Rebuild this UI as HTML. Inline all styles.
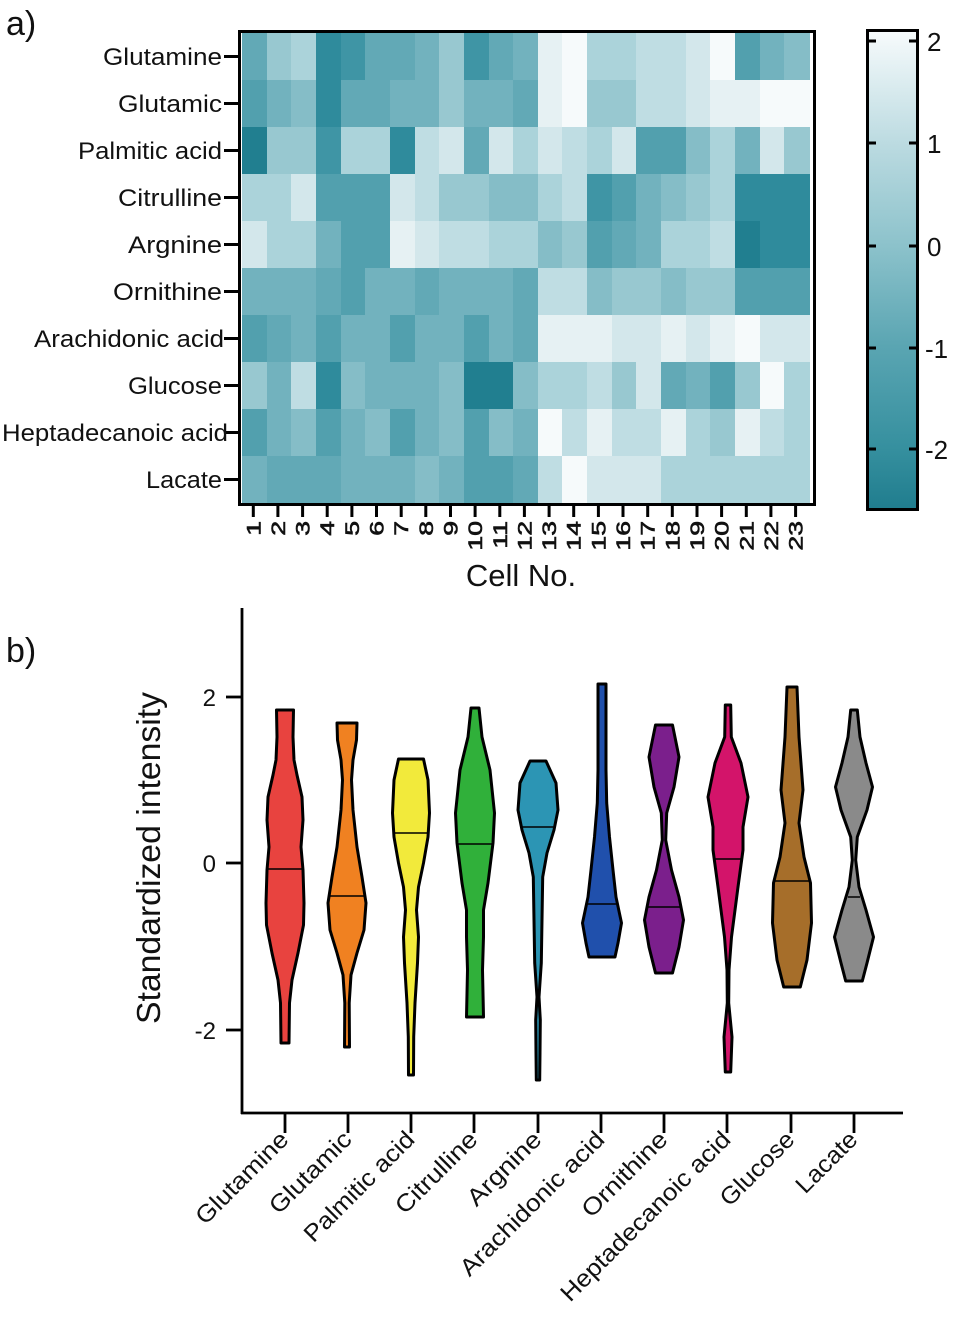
<!DOCTYPE html>
<html><head><meta charset="utf-8">
<style>
html,body{margin:0;padding:0;background:#fff;}
body{width:955px;height:1319px;position:relative;overflow:hidden;font-family:"Liberation Sans",Arial,sans-serif;}
#hm{position:absolute;left:242px;top:33px;width:567px;height:470px;display:grid;grid-template-columns:repeat(23,1fr);grid-template-rows:repeat(10,1fr);}
#hm i{display:block;margin-right:-0.5px;}
.l0{background:#217f90}.l1{background:#2f8b9c}.l2{background:#3f95a5}.l3{background:#52a0ae}.l4{background:#62a9b6}.l5{background:#72b2be}.l6{background:#85bdc7}.l7{background:#98c8d0}.l8{background:#abd3da}.l9{background:#bfdde3}.l10{background:#d3e7eb}.l11{background:#e6f1f3}.l12{background:#f6fafb}
svg{position:absolute;left:0;top:0;}
text{font-family:"Liberation Sans",Arial,sans-serif;fill:#111;}
</style></head><body>
<div id="hm">
<i class="l4"></i><i class="l7"></i><i class="l8"></i><i class="l1"></i><i class="l2"></i><i class="l4"></i><i class="l4"></i><i class="l5"></i><i class="l7"></i><i class="l2"></i><i class="l4"></i><i class="l5"></i><i class="l11"></i><i class="l12"></i><i class="l8"></i><i class="l8"></i><i class="l9"></i><i class="l9"></i><i class="l10"></i><i class="l12"></i><i class="l3"></i><i class="l5"></i><i class="l6"></i>
<i class="l3"></i><i class="l5"></i><i class="l6"></i><i class="l1"></i><i class="l4"></i><i class="l4"></i><i class="l5"></i><i class="l5"></i><i class="l7"></i><i class="l5"></i><i class="l5"></i><i class="l4"></i><i class="l11"></i><i class="l12"></i><i class="l7"></i><i class="l7"></i><i class="l9"></i><i class="l9"></i><i class="l10"></i><i class="l11"></i><i class="l11"></i><i class="l12"></i><i class="l12"></i>
<i class="l0"></i><i class="l7"></i><i class="l7"></i><i class="l2"></i><i class="l8"></i><i class="l8"></i><i class="l1"></i><i class="l9"></i><i class="l10"></i><i class="l4"></i><i class="l10"></i><i class="l8"></i><i class="l10"></i><i class="l9"></i><i class="l8"></i><i class="l10"></i><i class="l3"></i><i class="l3"></i><i class="l6"></i><i class="l8"></i><i class="l5"></i><i class="l10"></i><i class="l7"></i>
<i class="l8"></i><i class="l8"></i><i class="l10"></i><i class="l3"></i><i class="l3"></i><i class="l3"></i><i class="l10"></i><i class="l9"></i><i class="l7"></i><i class="l7"></i><i class="l6"></i><i class="l6"></i><i class="l8"></i><i class="l9"></i><i class="l2"></i><i class="l3"></i><i class="l5"></i><i class="l6"></i><i class="l7"></i><i class="l8"></i><i class="l1"></i><i class="l1"></i><i class="l1"></i>
<i class="l10"></i><i class="l8"></i><i class="l8"></i><i class="l5"></i><i class="l3"></i><i class="l3"></i><i class="l11"></i><i class="l10"></i><i class="l9"></i><i class="l9"></i><i class="l8"></i><i class="l8"></i><i class="l6"></i><i class="l7"></i><i class="l3"></i><i class="l4"></i><i class="l5"></i><i class="l8"></i><i class="l8"></i><i class="l9"></i><i class="l0"></i><i class="l1"></i><i class="l1"></i>
<i class="l5"></i><i class="l5"></i><i class="l5"></i><i class="l4"></i><i class="l3"></i><i class="l5"></i><i class="l5"></i><i class="l4"></i><i class="l5"></i><i class="l5"></i><i class="l5"></i><i class="l4"></i><i class="l9"></i><i class="l9"></i><i class="l6"></i><i class="l7"></i><i class="l7"></i><i class="l6"></i><i class="l7"></i><i class="l7"></i><i class="l3"></i><i class="l3"></i><i class="l3"></i>
<i class="l3"></i><i class="l4"></i><i class="l5"></i><i class="l3"></i><i class="l5"></i><i class="l5"></i><i class="l3"></i><i class="l5"></i><i class="l5"></i><i class="l3"></i><i class="l5"></i><i class="l4"></i><i class="l11"></i><i class="l11"></i><i class="l11"></i><i class="l10"></i><i class="l10"></i><i class="l11"></i><i class="l10"></i><i class="l11"></i><i class="l12"></i><i class="l10"></i><i class="l10"></i>
<i class="l7"></i><i class="l5"></i><i class="l9"></i><i class="l1"></i><i class="l6"></i><i class="l5"></i><i class="l5"></i><i class="l5"></i><i class="l6"></i><i class="l0"></i><i class="l0"></i><i class="l6"></i><i class="l8"></i><i class="l8"></i><i class="l9"></i><i class="l7"></i><i class="l10"></i><i class="l4"></i><i class="l5"></i><i class="l3"></i><i class="l7"></i><i class="l12"></i><i class="l8"></i>
<i class="l3"></i><i class="l5"></i><i class="l6"></i><i class="l3"></i><i class="l5"></i><i class="l6"></i><i class="l3"></i><i class="l5"></i><i class="l6"></i><i class="l3"></i><i class="l6"></i><i class="l5"></i><i class="l12"></i><i class="l9"></i><i class="l11"></i><i class="l9"></i><i class="l9"></i><i class="l11"></i><i class="l8"></i><i class="l7"></i><i class="l11"></i><i class="l9"></i><i class="l8"></i>
<i class="l5"></i><i class="l4"></i><i class="l4"></i><i class="l4"></i><i class="l5"></i><i class="l5"></i><i class="l5"></i><i class="l6"></i><i class="l5"></i><i class="l3"></i><i class="l3"></i><i class="l4"></i><i class="l9"></i><i class="l12"></i><i class="l10"></i><i class="l10"></i><i class="l10"></i><i class="l8"></i><i class="l8"></i><i class="l8"></i><i class="l8"></i><i class="l8"></i><i class="l8"></i>
</div>
<svg width="955" height="1319" viewBox="0 0 955 1319" xmlns="http://www.w3.org/2000/svg">
<defs>
<linearGradient id="cb" x1="0" y1="0" x2="0" y2="1">
<stop offset="0" stop-color="#f7fbfc"/>
<stop offset="0.235" stop-color="#bcdbe1"/>
<stop offset="0.45" stop-color="#8cc2cb"/>
<stop offset="0.66" stop-color="#5aa5b2"/>
<stop offset="0.87" stop-color="#36909f"/>
<stop offset="1" stop-color="#207d8e"/>
</linearGradient>
</defs>
<text x="6" y="35" font-size="34">a)</text>
<text x="6" y="662" font-size="34">b)</text>

<rect x="239.5" y="31.5" width="575" height="473" fill="none" stroke="#000" stroke-width="3"/>
<g stroke="#000" stroke-width="3">
<line x1="224" y1="56.5" x2="239" y2="56.5"/><line x1="224" y1="103.5" x2="239" y2="103.5"/><line x1="224" y1="150.5" x2="239" y2="150.5"/><line x1="224" y1="197.5" x2="239" y2="197.5"/><line x1="224" y1="244.5" x2="239" y2="244.5"/><line x1="224" y1="291.5" x2="239" y2="291.5"/><line x1="224" y1="338.5" x2="239" y2="338.5"/><line x1="224" y1="385.5" x2="239" y2="385.5"/><line x1="224" y1="432.5" x2="239" y2="432.5"/><line x1="224" y1="479.5" x2="239" y2="479.5"/>
</g>
<g font-size="24" text-anchor="end">
<text x="222" y="65" textLength="119" lengthAdjust="spacingAndGlyphs">Glutamine</text>
<text x="222" y="112" textLength="104" lengthAdjust="spacingAndGlyphs">Glutamic</text>
<text x="222" y="159" textLength="144" lengthAdjust="spacingAndGlyphs">Palmitic acid</text>
<text x="222" y="206" textLength="104" lengthAdjust="spacingAndGlyphs">Citrulline</text>
<text x="222" y="253" textLength="94" lengthAdjust="spacingAndGlyphs">Argnine</text>
<text x="222" y="300" textLength="109" lengthAdjust="spacingAndGlyphs">Ornithine</text>
<text x="224" y="347" textLength="190" lengthAdjust="spacingAndGlyphs">Arachidonic acid</text>
<text x="222" y="394" textLength="94" lengthAdjust="spacingAndGlyphs">Glucose</text>
<text x="228" y="441" textLength="226" lengthAdjust="spacingAndGlyphs">Heptadecanoic acid</text>
<text x="222" y="488" textLength="76" lengthAdjust="spacingAndGlyphs">Lacate</text>
</g>
<g stroke="#000" stroke-width="3">
<line x1="253.3" y1="506" x2="253.3" y2="517"/><line x1="277.9" y1="506" x2="277.9" y2="517"/><line x1="302.6" y1="506" x2="302.6" y2="517"/><line x1="327.2" y1="506" x2="327.2" y2="517"/><line x1="351.9" y1="506" x2="351.9" y2="517"/><line x1="376.5" y1="506" x2="376.5" y2="517"/><line x1="401.2" y1="506" x2="401.2" y2="517"/><line x1="425.8" y1="506" x2="425.8" y2="517"/><line x1="450.5" y1="506" x2="450.5" y2="517"/><line x1="475.1" y1="506" x2="475.1" y2="517"/><line x1="499.8" y1="506" x2="499.8" y2="517"/><line x1="524.4" y1="506" x2="524.4" y2="517"/><line x1="549.1" y1="506" x2="549.1" y2="517"/><line x1="573.7" y1="506" x2="573.7" y2="517"/><line x1="598.4" y1="506" x2="598.4" y2="517"/><line x1="623" y1="506" x2="623" y2="517"/><line x1="647.7" y1="506" x2="647.7" y2="517"/><line x1="672.3" y1="506" x2="672.3" y2="517"/><line x1="697" y1="506" x2="697" y2="517"/><line x1="721.6" y1="506" x2="721.6" y2="517"/><line x1="746.3" y1="506" x2="746.3" y2="517"/><line x1="770.9" y1="506" x2="770.9" y2="517"/><line x1="795.6" y1="506" x2="795.6" y2="517"/>
</g>
<g font-size="19" text-anchor="end" stroke="#111" stroke-width="0.6">
<text transform="translate(260.3,521) rotate(-90) scale(1.4,1)">1</text>
<text transform="translate(284.9,521) rotate(-90) scale(1.4,1)">2</text>
<text transform="translate(309.6,521) rotate(-90) scale(1.4,1)">3</text>
<text transform="translate(334.2,521) rotate(-90) scale(1.4,1)">4</text>
<text transform="translate(358.9,521) rotate(-90) scale(1.4,1)">5</text>
<text transform="translate(383.5,521) rotate(-90) scale(1.4,1)">6</text>
<text transform="translate(408.2,521) rotate(-90) scale(1.4,1)">7</text>
<text transform="translate(432.8,521) rotate(-90) scale(1.4,1)">8</text>
<text transform="translate(457.5,521) rotate(-90) scale(1.4,1)">9</text>
<text transform="translate(482.1,521) rotate(-90) scale(1.4,1)">10</text>
<text transform="translate(506.8,521) rotate(-90) scale(1.4,1)">11</text>
<text transform="translate(531.4,521) rotate(-90) scale(1.4,1)">12</text>
<text transform="translate(556.1,521) rotate(-90) scale(1.4,1)">13</text>
<text transform="translate(580.7,521) rotate(-90) scale(1.4,1)">14</text>
<text transform="translate(605.4,521) rotate(-90) scale(1.4,1)">15</text>
<text transform="translate(630,521) rotate(-90) scale(1.4,1)">16</text>
<text transform="translate(654.7,521) rotate(-90) scale(1.4,1)">17</text>
<text transform="translate(679.3,521) rotate(-90) scale(1.4,1)">18</text>
<text transform="translate(704,521) rotate(-90) scale(1.4,1)">19</text>
<text transform="translate(728.6,521) rotate(-90) scale(1.4,1)">20</text>
<text transform="translate(753.3,521) rotate(-90) scale(1.4,1)">21</text>
<text transform="translate(777.9,521) rotate(-90) scale(1.4,1)">22</text>
<text transform="translate(802.6,521) rotate(-90) scale(1.4,1)">23</text>
</g>
<text x="521" y="586" font-size="31" text-anchor="middle">Cell No.</text>

<rect x="867.5" y="30.5" width="50" height="479" fill="url(#cb)" stroke="#000" stroke-width="3"/>
<g stroke="#000" stroke-width="3">
<line x1="868" y1="41" x2="876" y2="41"/><line x1="909" y1="41" x2="917" y2="41"/>
<line x1="868" y1="143" x2="876" y2="143"/><line x1="909" y1="143" x2="917" y2="143"/>
<line x1="868" y1="246" x2="876" y2="246"/><line x1="909" y1="246" x2="917" y2="246"/>
<line x1="868" y1="348" x2="876" y2="348"/><line x1="909" y1="348" x2="917" y2="348"/>
<line x1="868" y1="449" x2="876" y2="449"/><line x1="909" y1="449" x2="917" y2="449"/>
</g>
<g font-size="26">
<text x="927" y="51">2</text>
<text x="927" y="153">1</text>
<text x="927" y="256">0</text>
<text x="925" y="358">-1</text>
<text x="925" y="459">-2</text>
</g>

<g stroke="#000" stroke-width="2.8" fill="none">
<line x1="242" y1="608" x2="242" y2="1114"/>
<line x1="241" y1="1113" x2="903" y2="1113"/>
<line x1="226" y1="697" x2="242" y2="697"/><line x1="226" y1="863" x2="242" y2="863"/><line x1="226" y1="1030" x2="242" y2="1030"/>
<line x1="285" y1="1113" x2="285" y2="1133"/><line x1="348" y1="1113" x2="348" y2="1133"/><line x1="411" y1="1113" x2="411" y2="1133"/><line x1="474" y1="1113" x2="474" y2="1133"/><line x1="538" y1="1113" x2="538" y2="1133"/><line x1="601" y1="1113" x2="601" y2="1133"/><line x1="664" y1="1113" x2="664" y2="1133"/><line x1="727" y1="1113" x2="727" y2="1133"/><line x1="791" y1="1113" x2="791" y2="1133"/><line x1="854" y1="1113" x2="854" y2="1133"/>
</g>
<g font-size="24" text-anchor="end">
<text x="216" y="706">2</text>
<text x="216" y="872">0</text>
<text x="216" y="1039">-2</text>
</g>
<text transform="translate(160,858) rotate(-90)" font-size="33" text-anchor="middle" textLength="332" lengthAdjust="spacingAndGlyphs">Standardized intensity</text>

<g stroke="#000" stroke-width="3" stroke-linejoin="round">
<path fill="#e8433f" d="M293.5,710 L293,737 L294,760 L297,775 L302,797 L303,820 L301,847 L303,870 L304,903 L303.5,925 L298,953 L292,980 L289.5,1003 L289,1043 L281,1043 L280.5,1003 L278,980 L272,953 L266.5,925 L266,903 L267,870 L269,847 L267,820 L268,797 L273,775 L276,760 L277,737 L276.5,710 Z"/>
<path fill="#f08121" d="M357,723 L356.5,740 L353,760 L351.5,780 L353,810 L357,847 L362,877 L366,903 L364,930 L357,953 L351,975 L349.2,1003 L349.5,1047 L344.5,1047 L344.8,1003 L343,975 L337,953 L330,930 L328,903 L332,877 L337,847 L341,810 L342.5,780 L341,760 L337.5,740 L337,723 Z"/>
<path fill="#f2ea3b" d="M423.5,759 L428,780 L429.5,813 L428,837 L423.5,863 L418.5,887 L416.5,910 L418.5,937 L417.5,963 L415,1003 L413.7,1037 L413.5,1075 L408.5,1075 L408.3,1037 L407,1003 L404.5,963 L403.5,937 L405.5,910 L403.5,887 L398.5,863 L394,837 L392.5,813 L394,780 L398.5,759 Z"/>
<path fill="#30b03a" d="M479,708 L482,737 L490,770 L494.5,813 L493,843 L488,883 L483.5,910 L483.5,937 L482.5,970 L483.5,1017 L466.5,1017 L467.5,970 L466.5,937 L466.5,910 L462,883 L457,843 L455.5,813 L460,770 L468,737 L471,708 Z"/>
<path fill="#2c95b4" d="M546,761 L556,783 L558,810 L554,830 L547,853 L542.7,877 L542,920 L541.3,963 L539,997 L540.3,1020 L540,1053 L539.7,1080 L536.3,1080 L536,1053 L535.7,1020 L537,997 L534.7,963 L534,920 L533.3,877 L529,853 L522,830 L518,810 L520,783 L530,761 Z"/>
<path fill="#2050ac" d="M606,684 L606,720 L606,770 L606.7,803 L609.5,837 L613,870 L616,897 L621.5,923 L618,943 L615,957 L589,957 L586,943 L582.5,923 L588,897 L591,870 L594.5,837 L597.3,803 L598,770 L598,720 L598,684 Z"/>
<path fill="#7b1f8c" d="M672.5,725 L679,757 L674,787 L666.7,813 L665.7,840 L671.5,870 L679,897 L683.5,920 L679,947 L672.5,973 L655.5,973 L649,947 L644.5,920 L649,897 L656.5,870 L662.3,840 L661.3,813 L654,787 L649,757 L655.5,725 Z"/>
<path fill="#d3146a" d="M730.7,705 L731.3,737 L741,763 L748,797 L743,827 L743,850 L738,887 L731.5,937 L729,970 L728.7,1003 L732,1037 L730.7,1072 L725.3,1072 L724,1037 L727.3,1003 L727,970 L724.5,937 L718,887 L713,850 L713,827 L708,797 L715,763 L724.7,737 L725.3,705 Z"/>
<path fill="#a66e2a" d="M797,687 L799,737 L803,790 L799,823 L804,857 L810.5,883 L811.5,923 L807,960 L800.3,987 L783.7,987 L777,960 L772.5,923 L773.5,883 L780,857 L785,823 L781,790 L785,737 L787,687 Z"/>
<path fill="#8a8a8a" d="M857.3,710 L860,737 L866,763 L872.5,787 L867,810 L857.3,837 L855.7,860 L859,887 L866,910 L873.5,937 L867,963 L862.3,981 L845.7,981 L841,963 L834.5,937 L842,910 L849,887 L852.3,860 L850.7,837 L841,810 L835.5,787 L842,763 L848,737 L850.7,710 Z"/>
</g>
<g stroke="#000" stroke-width="1.5">
<line x1="267" y1="869" x2="303" y2="869"/>
<line x1="329" y1="896" x2="365" y2="896"/>
<line x1="394" y1="833" x2="428" y2="833"/>
<line x1="457" y1="844" x2="493" y2="844"/>
<line x1="521" y1="827" x2="555" y2="827"/>
<line x1="587" y1="904" x2="617" y2="904"/>
<line x1="647" y1="907" x2="681" y2="907"/>
<line x1="714" y1="859" x2="742" y2="859"/>
<line x1="774" y1="881" x2="810" y2="881"/>
<line x1="848" y1="897" x2="860" y2="897"/>
</g>
<g font-size="24" text-anchor="end">
<text transform="translate(290,1141) rotate(-45)" textLength="120" lengthAdjust="spacingAndGlyphs">Glutamine</text>
<text transform="translate(353,1141) rotate(-45)" textLength="105" lengthAdjust="spacingAndGlyphs">Glutamic</text>
<text transform="translate(416,1141) rotate(-45)" textLength="145" lengthAdjust="spacingAndGlyphs">Palmitic acid</text>
<text transform="translate(479,1141) rotate(-45)" textLength="105" lengthAdjust="spacingAndGlyphs">Citrulline</text>
<text transform="translate(543,1141) rotate(-45)" textLength="94" lengthAdjust="spacingAndGlyphs">Argnine</text>
<text transform="translate(606,1141) rotate(-45)" textLength="193" lengthAdjust="spacingAndGlyphs">Arachidonic acid</text>
<text transform="translate(669,1141) rotate(-45)" textLength="110" lengthAdjust="spacingAndGlyphs">Ornithine</text>
<text transform="translate(732,1141) rotate(-45)" textLength="229" lengthAdjust="spacingAndGlyphs">Heptadecanoic acid</text>
<text transform="translate(796,1141) rotate(-45)" textLength="94" lengthAdjust="spacingAndGlyphs">Glucose</text>
<text transform="translate(859,1141) rotate(-45)" textLength="76" lengthAdjust="spacingAndGlyphs">Lacate</text>
</g>
</svg>
</body></html>
